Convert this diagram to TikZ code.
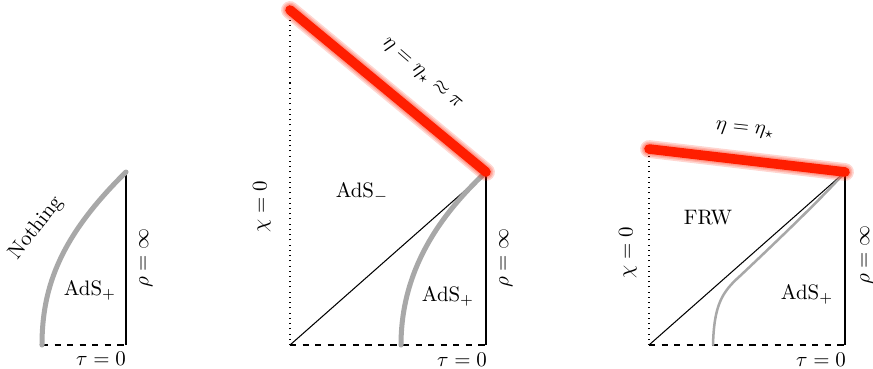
\documentclass[tikz,border=0pt]{standalone}
\usetikzlibrary{positioning}
\definecolor{wallred}{RGB}{255,30,0}
\definecolor{wallgray}{RGB}{168,168,168}
\begin{document}
\begin{tikzpicture}[x=0.0168cm, y=-0.0168cm,
		edge/.style={line width=0.5pt},
		horizon/.style={line width=0.5pt, dotted},
		slice/.style={line width=0.5pt, dashed},
		wall/.style={line width=2.4pt, wallgray, line cap=round},
		thinwall/.style={line width=1.2pt, wallgray, line cap=round},
		glow/.style={line width=#1, wallred, line cap=round, opacity=0.18},
		crunch/.style={line width=4.6pt, wallred, line cap=round}]
			\useasboundingbox (0,0) rectangle (873,368);

			% Левая диаграмма
			\coordinate (a0) at (42,345);
			\coordinate (a1) at (126,345);
			\coordinate (a2) at (126,172);
			\draw[slice] (a0) -- (a1);
			\draw[edge] (a1) -- (a2);
			\draw[wall] (a0) .. controls (42,285) and (62,235) .. (a2);
			\node[rotate=52] (nothing) at (36,228) {Nothing};
			\node (adsA) at (90,290) {AdS$_+$};
			\node[rotate=90] (rhoA) at (146,258) {$\rho=\infty$};
			\node (tauA) at (101,359) {$\tau=0$};

			% Средняя диаграмма
			\coordinate (b0) at (290,345);
			\coordinate (b1) at (486,345);
			\coordinate (b2) at (486,172);
			\coordinate (b3) at (290,10);
			\coordinate (b4) at (401,345);
			\draw[horizon] (b0) -- (b3);
			\draw[slice] (b0) -- (b1);
			\draw[edge] (b1) -- (b2);
			\draw[edge] (b0) -- (b2);
			\draw[wall] (b4) .. controls (401,270) and (440,215) .. (b2);
			\foreach \w in {8.5pt,7pt,5.8pt}
					\draw[glow=\w] (b3) -- (b2);
			\draw[crunch] (b3) -- (b2);
			\node[rotate=-41] (etaB) at (422,74) {$\eta=\eta_\star\approx\pi$};
			\node (adsminus) at (362,192) {AdS$_-$};
			\node[rotate=90] (chiB) at (262,207) {$\chi=0$};
			\node (adsB) at (448,296) {AdS$_+$};
			\node[rotate=90] (rhoB) at (506,258) {$\rho=\infty$};
			\node (tauB) at (462,360) {$\tau=0$};

			% Правая диаграмма
			\coordinate (c0) at (649,345);
			\coordinate (c1) at (845,345);
			\coordinate (c2) at (845,172);
			\coordinate (c3) at (649,149);
			\coordinate (c4) at (713,345);
			\draw[horizon] (c0) -- (c3);
			\draw[slice] (c0) -- (c1);
			\draw[edge] (c1) -- (c2);
			\draw[edge] (c0) -- (c2);
			\draw[thinwall] (c4) .. controls (714,305) and (722,292) .. (740,276)
					.. controls (775,243) and (825,195) .. (c2);
			\foreach \w in {8.5pt,7pt,5.8pt}
					\draw[glow=\w] (c3) -- (c2);
			\draw[crunch] (c3) -- (c2);
			\node[rotate=-6] (etaC) at (745,130) {$\eta=\eta_\star$};
			\node (frw) at (708,218) {FRW};
			\node[rotate=90] (chiC) at (628,253) {$\chi=0$};
			\node (adsC) at (807,294) {AdS$_+$};
			\node[rotate=90] (rhoC) at (867,255) {$\rho=\infty$};
			\node (tauC) at (821,360) {$\tau=0$};
		\end{tikzpicture}
\end{document}
